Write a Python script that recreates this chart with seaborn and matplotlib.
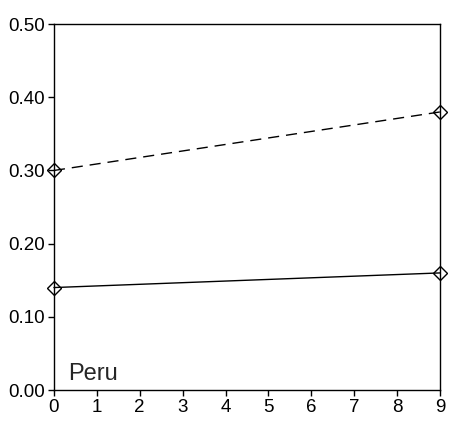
import matplotlib
matplotlib.use("Agg")
import matplotlib.pyplot as plt
import seaborn as sns
import pandas as pd

x_vals = [0, 9]
dashed_vals = [0.30, 0.38]
solid_vals = [0.14, 0.16]
y_ticks = [0.0, 0.1, 0.2, 0.3, 0.4, 0.5]
x_ticks = list(range(10))
label = "Peru"

sns.set_style("ticks")
plt.rcParams['font.family'] = ['Liberation Sans', 'DejaVu Sans']

fig = plt.figure(figsize=(4.57, 4.23), dpi=100)
ax = fig.add_axes([0.118, 0.078, 0.845, 0.865])

df = pd.DataFrame({"x": x_vals * 2,
                   "y": dashed_vals + solid_vals,
                   "s": ["a"] * 2 + ["b"] * 2})
sns.lineplot(data=df, x="x", y="y", style="s", dashes={"a": (8, 5), "b": ""},
             markers={"a": "D", "b": "D"}, color="black", linewidth=1.0,
             markersize=7, markerfacecolor="none", markeredgecolor="black",
             markeredgewidth=1.0, legend=False, ax=ax, clip_on=False)

ax.set_xlim(0, 9)
ax.set_ylim(0, 0.5)
ax.set_xticks(x_ticks)
ax.set_yticks(y_ticks)
ax.set_yticklabels([f"{v:.2f}" for v in y_ticks])
ax.set_xlabel("")
ax.set_ylabel("")
for sp in ax.spines.values():
    sp.set_visible(True)
    sp.set_linewidth(1.0)
    sp.set_color("black")
ax.tick_params(axis="both", direction="out", length=4, width=1, labelsize=13.5, colors="black", pad=2.5)
ax.text(0.036, 0.027, label, transform=ax.transAxes, fontsize=17, ha="left", va="baseline")

fig.savefig("out.png", dpi=100)
